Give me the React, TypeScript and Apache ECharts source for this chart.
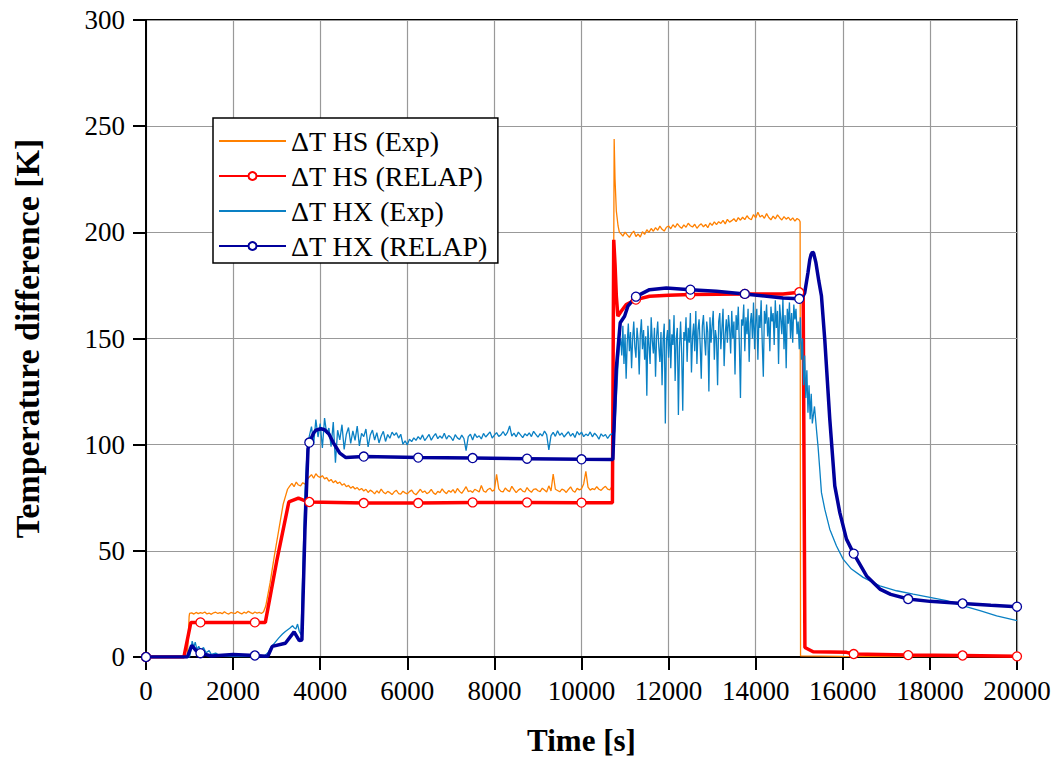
import React, { useEffect, useRef } from "react";
import * as echarts from "echarts";

// ---------- DATA ----------
const X_TICKS_MAX = 20000;
const Y_TICKS_MAX = 300;
const MARKER_EVERY = 1250;

const SERIES_NAMES = [
  "\u0394T HS (Exp)",
  "\u0394T HS (RELAP)",
  "\u0394T HX (Exp)",
  "\u0394T HX (RELAP)",
];

// ΔT HS (Exp)
const HS_EXP_PRE: [number, number][] = [[0, 0], [950, 0], [990, 19]];
const HS_EXP_LOW_START = 1000;
const HS_EXP_LOW_STEP = 50;
const HS_EXP_LOW = [
  20.5, 20.8, 20.2, 21.0, 20.4, 20.9, 20.6, 21.2, 20.3, 20.7, 20.1, 20.8, 21.1, 20.5, 20.9, 20.4, 21.3, 20.6,
  20.2, 21.0, 20.7, 20.5, 21.4, 20.8, 20.3, 21.1, 20.6, 21.5, 20.9, 20.4, 21.2, 20.7, 21.0, 20.5, 21.3,
];
const HS_EXP_RISE: [number, number][] = [[2750, 24], [2850, 35], [2950, 48], [3050, 60], [3150, 72], [3250, 79]];
const HS_EXP_MID_START = 3300;
const HS_EXP_MID_STEP = 50;
const HS_EXP_MID = [
  80.5, 81.8, 80.2, 82.4, 81.0, 80.6, 82.1, 81.4,
  83.5, 84.8, 85.9, 84.2, 86.3, 85.1, 84.6, 85.4,
  83.9, 84.5, 82.8, 83.6, 82.1, 83.0, 81.7, 82.4,
  80.9, 81.6, 80.2, 80.8, 79.5, 80.3, 79.1, 79.8, 78.6, 79.4,
  78.2, 79.0, 77.5, 78.6, 77.9, 76.8, 78.3, 77.2, 79.1, 77.6, 76.9, 78.0, 77.4, 76.5, 77.8, 78.5, 77.0, 76.7, 78.1, 77.3,
  76.8, 77.9, 78.6, 77.1, 76.4, 77.7, 79.0, 77.5, 78.2, 76.9, 77.6, 78.9, 77.3, 76.6, 78.0, 77.4, 79.2, 77.8, 76.9, 78.4,
  77.6, 78.8, 77.2, 79.4, 78.0, 77.1, 78.6, 80.2, 77.9, 78.3, 77.5, 79.0, 78.4, 77.7, 80.8, 78.2, 77.6, 78.9, 79.5, 78.1,
  78.7, 86.0, 79.2, 78.0, 77.8, 79.6, 78.5, 77.9, 80.4, 78.8, 77.4, 78.6, 79.3, 78.1, 77.7, 79.8, 78.4, 77.6, 78.9, 79.2,
  78.3, 77.9, 79.5, 78.6, 77.7, 80.6, 78.2, 86.2, 79.0, 78.4, 77.8, 79.1, 78.6, 77.5, 78.9, 80.1, 78.3, 77.6, 79.4, 78.7,
  79.2, 81.5, 87.4, 80.0, 78.6, 79.3, 78.8, 80.2, 79.0, 78.5, 79.6, 80.4, 79.1, 78.7, 80.3,
];
const HS_EXP_SPIKE: [number, number][] = [[10720, 80], [10750, 244], [10770, 225], [10800, 210], [10840, 203], [10870, 200]];
const HS_EXP_HIGH_START = 10900;
const HS_EXP_HIGH_STEP = 50;
const HS_EXP_HIGH = [
  199.5, 198.2, 200.1, 198.8, 197.6, 199.4, 200.6, 198.0, 199.2, 197.8, 200.3,
  199.0, 201.2, 200.0, 201.8, 200.5, 202.2, 201.0, 202.9, 201.4, 200.6, 202.4,
  203.0, 201.7, 203.6, 202.3, 204.1, 202.8, 201.9, 203.5, 202.4, 204.3, 203.1,
  202.5, 203.8, 201.9, 203.2, 204.0, 202.6, 203.7, 202.2, 204.4, 203.3, 204.9,
  203.6, 205.0, 204.2, 205.6, 204.0, 206.1, 204.8, 205.5, 206.4, 205.0, 206.9,
  205.7, 207.1, 206.0, 207.8, 206.5, 205.9, 208.4, 206.8, 209.5, 207.2, 208.0,
  206.6, 208.8, 207.0, 205.9, 207.6, 206.3, 208.2, 206.9, 205.8, 207.4, 206.2,
  207.1, 205.6, 206.8, 205.3, 206.5, 205.8,
];
const HS_EXP_POST: [number, number][] = [[15020, 205], [15030, 0.5], [16000, 0.3], [20000, 0.2]];

// ΔT HS (RELAP)
const HS_RELAP: [number, number][] = [
  [0, 0], [870, 0], [1030, 16.3], [1250, 16.3], [2500, 16.3], [2740, 16.3], [3000, 45], [3280, 73],
  [3500, 74.8], [3700, 73.2], [3750, 73], [5000, 72.5], [6250, 72.5], [7500, 72.8], [8750, 72.8],
  [10000, 72.7], [10710, 72.7], [10740, 196.5], [10770, 185], [10800, 170], [10835, 160.5], [10912, 162.8],
  [11027, 166], [11250, 168.3], [11563, 169.9], [12000, 170.4], [12500, 170.7], [13750, 171], [14628, 171],
  [15000, 171.8], [15090, 171.8], [15130, 4.5], [15318, 2.5], [16084, 2.2], [16250, 1.4], [17500, 0.9],
  [18750, 0.7], [20000, 0.3],
];

// ΔT HX (Exp)
const HX_EXP_PRE: [number, number][] = [
  [0, 0], [1000, 0], [1030, 3], [1060, 7.5], [1100, 4.5], [1130, 7], [1170, 3.5], [1210, 5], [1260, 3],
  [1320, 4.5], [1380, 2], [1450, 3], [1500, 1.2], [1600, 1.8], [1700, 0.6], [2000, 0.3], [2700, 0.2],
  [2800, 2], [2870, 4.7], [2950, 6.5], [3050, 9], [3134, 10.8], [3200, 12], [3300, 13.5], [3364, 14.7],
  [3400, 13.8], [3441, 13.2], [3480, 15.5], [3520, 12], [3560, 10.5], [3600, 40], [3650, 78], [3700, 97],
];
const HX_EXP_MID_START = 3750;
const HX_EXP_MID_STEP = 50;
const HX_EXP_MID = [
  104, 108.5, 100.2, 111.8, 103.6, 109.9, 98.4, 112.5, 105.1, 107.8,
  99.0, 110.6, 91.5, 106.8, 102.3, 109.4, 97.8, 104.9, 108.1, 100.6,
  106.5, 102.0, 108.7, 99.4, 105.3, 103.8, 107.4, 98.9, 104.6, 106.9,
  102.2, 105.7, 100.8, 104.1, 106.3, 101.5, 104.8, 103.0, 105.9, 104.4,
  105.6, 103.1, 104.9, 100.2, 101.8, 99.9, 102.6, 101.4, 103.2, 102.0,
  103.8, 102.5, 104.6, 101.9, 103.3, 104.8, 102.1, 103.9, 105.2, 102.8,
  104.1, 103.0, 105.4, 102.6, 104.3, 103.5, 101.9, 104.7, 103.2, 102.4,
  104.5, 102.9, 97.2, 103.8, 104.9, 102.2, 105.1, 103.4, 104.2, 102.7,
  105.3, 103.6, 104.8, 106.0, 103.1, 104.5, 105.7, 103.9, 104.6, 106.2,
  104.3, 105.8, 108.8, 104.0, 105.4, 103.7, 105.9, 104.6, 103.3, 105.1,
  104.2, 105.6, 103.8, 106.3, 104.9, 103.5, 105.2, 104.1, 106.4, 104.7,
  97.5, 104.3, 105.8, 103.9, 106.6, 104.4, 105.5, 103.6, 104.9, 106.1,
  104.0, 105.3, 103.4, 106.2, 104.6, 105.9, 103.8, 105.0, 104.2, 106.0,
  103.7, 105.4, 104.3, 102.6, 105.1, 103.9, 104.8, 102.9, 104.5, 105.2,
];
const HX_EXP_RISE: [number, number][] = [[10720, 104], [10760, 106], [10800, 122], [10840, 138], [10870, 146]];
const HX_EXP_HIGH_START = 10900;
const HX_EXP_HIGH_STEP = 25;
const HX_EXP_HIGH = [
  150, 142, 156, 138, 152, 131, 148, 157, 144, 153, 136, 150, 158, 146, 141, 155, 149, 133, 152, 159,
  145, 154, 140, 151, 123, 156, 147, 138, 160, 149, 143, 155, 132, 151, 158, 146, 139, 153, 128, 150,
  157, 110, 149, 154, 141, 159, 136, 152, 147, 161, 130, 150, 155, 114, 146, 158, 143, 116, 153, 149,
  160, 139, 155, 148, 162, 134, 151, 157, 144, 163, 138, 154, 159, 147, 131, 156, 161, 150, 142, 158,
  153, 125, 160, 148, 156, 163, 140, 154, 150, 128, 158, 162, 145, 155, 164, 137, 152, 159, 148, 161,
  155, 143, 163, 150, 158, 133, 161, 154, 165, 147, 122, 159, 156, 166, 144, 160, 152, 164, 139, 157,
  162, 150, 167, 145, 158, 164, 140, 161, 155, 168, 148, 132, 163, 157, 166, 151, 160, 144, 165, 158,
  162, 147, 168, 155, 163, 138, 166, 159, 152, 169, 145, 161, 136, 164, 157, 167, 150, 162, 148, 166,
  159, 164, 152, 158, 145, 160, 140, 150, 128, 142, 122, 135, 115, 128, 112, 124, 110,
];
const HX_EXP_TAIL: [number, number][] = [
  [15350, 118], [15400, 106], [15432, 99], [15471, 88.4], [15510, 77.4], [15586, 69.6], [15701, 60.2],
  [15855, 52.3], [16007, 46.1], [16199, 41.4], [16467, 37.5], [16851, 33.5], [17234, 31.2], [17617, 29.6],
  [18000, 28.1], [18383, 26.5], [18766, 24.1], [19149, 21.8], [19533, 19.4], [20000, 17.1],
];

// ΔT HX (RELAP)
const HX_RELAP: [number, number][] = [
  [0, 0], [950, 0], [1050, 5.5], [1150, 3], [1250, 1.8], [1500, 0.5], [2000, 1.2], [2500, 0.7], [2750, 0.3],
  [2800, 0.5], [2900, 5], [3200, 6.5], [3400, 11.8], [3520, 7.7], [3580, 8], [3650, 60], [3720, 98],
  [3750, 101], [3850, 105.5], [3900, 106.8], [4015, 107.5], [4100, 107], [4200, 105], [4300, 101],
  [4450, 96], [4590, 93.9], [5000, 94.4], [6250, 93.9], [7500, 93.7], [8750, 93.4], [10000, 93.1],
  [10720, 93], [10797, 135.4], [10889, 157.4], [10989, 160.5], [11065, 165.2], [11250, 169.7], [11563, 173],
  [11947, 173.8], [12500, 173], [13096, 172.2], [13750, 171], [14628, 169.1], [15000, 168.7], [15060, 169],
  [15126, 171.5], [15200, 181], [15241, 187], [15270, 189.5], [15303, 190.7], [15330, 190.2], [15380, 186],
  [15450, 177], [15510, 170], [15586, 149.5], [15701, 112], [15816, 80.6], [15931, 68], [16084, 55.5],
  [16250, 48.7], [16545, 38.2], [16851, 32], [17100, 29.5], [17500, 27.3], [18000, 26.2], [18750, 25.2],
  [19400, 24.4], [20000, 23.7],
];

// ---------- helpers ----------
function block(start: number, step: number, values: number[]): [number, number][] {
  return values.map((v, i) => [start + i * step, v] as [number, number]);
}

const HS_EXP: [number, number][] = [
  ...HS_EXP_PRE,
  ...block(HS_EXP_LOW_START, HS_EXP_LOW_STEP, HS_EXP_LOW),
  ...HS_EXP_RISE,
  ...block(HS_EXP_MID_START, HS_EXP_MID_STEP, HS_EXP_MID),
  ...HS_EXP_SPIKE,
  ...block(HS_EXP_HIGH_START, HS_EXP_HIGH_STEP, HS_EXP_HIGH),
  ...HS_EXP_POST,
];

const HX_EXP: [number, number][] = [
  ...HX_EXP_PRE,
  ...block(HX_EXP_MID_START, HX_EXP_MID_STEP, HX_EXP_MID),
  ...HX_EXP_RISE,
  ...block(HX_EXP_HIGH_START, HX_EXP_HIGH_STEP, HX_EXP_HIGH),
  ...HX_EXP_TAIL,
];

function withMarkers(pts: [number, number][]) {
  return pts.map(([t, v]) =>
    t % MARKER_EVERY === 0 ? { value: [t, v] } : { value: [t, v], symbol: "none" }
  );
}

const FONT = "'Liberation Serif', 'Times New Roman', Times, serif";

export default function App() {
  const ref = useRef<HTMLDivElement>(null);

  useEffect(() => {
    if (!ref.current) return;
    const chart = echarts.init(ref.current, undefined, { renderer: "svg" });
    const plain = (v: number) => String(v);
    const option: any = {
      animation: false,
      backgroundColor: "#fff",
      grid: {
        left: 146,
        right: 42,
        top: 20,
        bottom: 103,
        show: true,
        borderColor: "#000",
        borderWidth: 2,
        backgroundColor: "transparent",
      },
      legend: {
        orient: "vertical",
        left: 213,
        top: 118,
        itemWidth: 67,
        itemHeight: 10,
        itemGap: 7,
        padding: [9, 10, 3, 5],
        backgroundColor: "#fff",
        borderColor: "#000",
        borderWidth: 1.5,
        borderRadius: 0,
        selectedMode: false,
        textStyle: { fontFamily: FONT, fontSize: 28, color: "#000", lineHeight: 28 },
        data: [
          { name: SERIES_NAMES[0], itemStyle: { opacity: 0 } },
          { name: SERIES_NAMES[1] },
          { name: SERIES_NAMES[2], itemStyle: { opacity: 0 } },
          { name: SERIES_NAMES[3] },
        ],
      },
      xAxis: {
        type: "value",
        min: 0,
        max: X_TICKS_MAX,
        interval: 2000,
        name: "Time [s]",
        nameLocation: "middle",
        nameGap: 68,
        nameTextStyle: { fontFamily: FONT, fontSize: 31, fontWeight: "bold", color: "#000" },
        axisLine: { show: true, lineStyle: { color: "#000", width: 2 } },
        axisTick: { show: true, inside: false, length: 13, lineStyle: { color: "#000", width: 2 } },
        axisLabel: { fontFamily: FONT, fontSize: 27, color: "#000", margin: 20, formatter: plain },
        splitLine: { show: true, lineStyle: { color: "#999", width: 1.2 } },
      },
      yAxis: {
        type: "value",
        min: 0,
        max: Y_TICKS_MAX,
        interval: 50,
        name: "Temperature difference [K]",
        nameLocation: "middle",
        nameGap: 102,
        nameTextStyle: { fontFamily: FONT, fontSize: 34, fontWeight: "bold", color: "#000" },
        axisLine: { show: true, lineStyle: { color: "#000", width: 2 } },
        axisTick: { show: true, inside: false, length: 13, lineStyle: { color: "#000", width: 2 } },
        axisLabel: { fontFamily: FONT, fontSize: 27, color: "#000", margin: 21, formatter: plain },
        splitLine: { show: true, lineStyle: { color: "#999", width: 1.2 } },
      },
      series: [
        {
          name: SERIES_NAMES[0],
          type: "line",
          data: HS_EXP,
          symbol: "none",
          lineStyle: { color: "#FF8000", width: 1.3 },
          itemStyle: { color: "#FF8000" },
          silent: true,
        },
        {
          name: SERIES_NAMES[1],
          type: "line",
          data: withMarkers(HS_RELAP),
          symbol: "circle",
          symbolSize: 9,
          showSymbol: true,
          showAllSymbol: true,
          lineStyle: { color: "#FF0000", width: 3.5 },
          itemStyle: { color: "#fff", borderColor: "#FF0000", borderWidth: 1.3 },
          silent: true,
        },
        {
          name: SERIES_NAMES[2],
          type: "line",
          data: HX_EXP,
          symbol: "none",
          lineStyle: { color: "#0A80C4", width: 1.3 },
          itemStyle: { color: "#0A80C4" },
          silent: true,
        },
        {
          name: SERIES_NAMES[3],
          type: "line",
          data: withMarkers(HX_RELAP),
          symbol: "circle",
          symbolSize: 9,
          showSymbol: true,
          showAllSymbol: true,
          lineStyle: { color: "#00009C", width: 3.5 },
          itemStyle: { color: "#fff", borderColor: "#00009C", borderWidth: 1.3 },
          silent: true,
        },
      ],
    };
    chart.setOption(option);
    return () => chart.dispose();
  }, []);

  return (
    <div
      ref={ref}
      style={{ position: "fixed", left: 0, top: 0, width: 1059, height: 761, background: "#fff" }}
    />
  );
}
